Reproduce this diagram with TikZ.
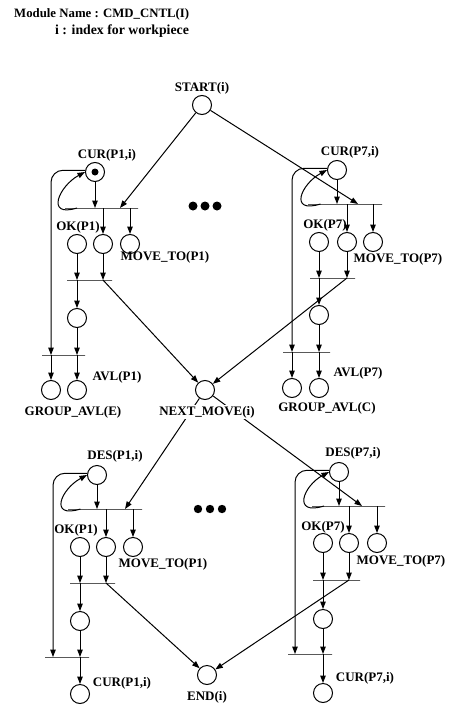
\documentclass[tikz,border=0pt]{standalone}
\usepackage{fontspec}
\setmainfont{Liberation Serif}
\usetikzlibrary{arrows.meta}

\begin{document}
\begin{tikzpicture}[x=1pt,y=1pt,
  place/.style={circle,draw,line width=1pt,minimum size=19pt,inner sep=0pt},
  token/.style={circle,fill,minimum size=7pt,inner sep=0pt},
  bar/.style={draw,line width=1pt,inner sep=0pt,outer sep=0pt,minimum height=0pt,minimum width=#1},
  lbl/.style={font=\fontsize{13}{15}\selectfont\bfseries,inner sep=1pt},
  arc/.style={-{Triangle[length=7.5pt,width=5.5pt]},line width=1pt}]
\useasboundingbox (0,0) rectangle (448,-709);

\node[lbl,anchor=west,font=\fontsize{12.8}{15}\selectfont\bfseries] (title) at (13,-14) {Module Name : CMD\_CNTL(I)};
\node[lbl,anchor=west,font=\fontsize{13.8}{15}\selectfont\bfseries] (index) at (54,-31) {i : index for workpiece};

\node[place] (start) at (202,-105) {};
\node[lbl] (startlbl) at (202,-88) {START(i)};
\node[place] (next) at (205,-390) {};
\node[place] (end) at (207,-675) {};
\coordinate (dotsU) at (205,-206);
\coordinate (dotsD) at (210,-509);

\node[place] (curA) at (95,-172) {};
\node[token] (tokA) at (curA) {};
\node[lbl] (curAlbl) at (107,-155) {CUR(P1,i)};
\node[bar=73pt] (tA1) at (101.5,-208) {};
\node[place] (okA) at (77,-244) {};
\node[place] (midA) at (103,-244) {};
\node[place] (mvA) at (130,-244) {};
\node[lbl] (okAlbl) at (78,-227) {OK(P1)};
\node[lbl] (mvAlbl) at (165,-257) {MOVE\_TO(P1)};
\node[bar=45pt] (tA2) at (89.5,-280) {};
\node[place] (pA) at (77,-318) {};
\node[bar=43pt] (tA3) at (63.5,-355) {};
\node[place] (grpA) at (51,-390) {};
\node[place] (avlA) at (77,-390) {};
\node[lbl] (avlAlbl) at (117,-377) {AVL(P1)};
\node[lbl] (grpAlbl) at (73,-412) {GROUP\_AVL(E)};

\node[place] (curB) at (337,-170) {};
\node[lbl] (curBlbl) at (350,-152) {CUR(P7,i)};
\node[bar=74pt] (tB1) at (345,-204) {};
\node[place] (okB) at (319,-242) {};
\node[place] (midB) at (347,-242) {};
\node[place] (mvB) at (373,-242) {};
\node[lbl] (okBlbl) at (325,-225) {OK(P7)};
\node[lbl] (mvBlbl) at (398,-259) {MOVE\_TO(P7)};
\node[bar=45pt] (tB2) at (332.5,-278) {};
\node[place] (pB) at (319,-315) {};
\node[bar=47pt] (tB3) at (306.5,-352) {};
\node[place] (grpB) at (292,-388) {};
\node[place] (avlB) at (319,-388) {};
\node[lbl] (avlBlbl) at (358,-373) {AVL(P7)};
\node[lbl] (grpBlbl) at (327,-408) {GROUP\_AVL(C)};

\node[place] (desC) at (97,-475) {};
\node[lbl] (desClbl) at (115,-456) {DES(P1,i)};
\node[bar=74pt] (tC1) at (105,-509) {};
\node[place] (okC) at (80,-547) {};
\node[place] (midC) at (106,-547) {};
\node[place] (mvC) at (133,-547) {};
\node[lbl] (okClbl) at (76,-530) {OK(P1)};
\node[lbl] (mvClbl) at (163,-564) {MOVE\_TO(P1)};
\node[bar=45pt] (tC2) at (92.5,-583) {};
\node[place] (pC) at (80,-621) {};
\node[bar=44pt] (tC3) at (67,-657) {};
\node[place] (curC) at (80,-694) {};
\node[lbl] (curClbl) at (122,-683) {CUR(P1,i)};

\node[place] (desD) at (339,-472) {};
\node[lbl] (desDlbl) at (353,-453) {DES(P7,i)};
\node[bar=73pt] (tD1) at (348.5,-506) {};
\node[place] (okD) at (323,-543) {};
\node[place] (midD) at (349,-543) {};
\node[place] (mvD) at (377,-543) {};
\node[lbl] (okDlbl) at (323,-527) {OK(P7)};
\node[lbl] (mvDlbl) at (401,-561) {MOVE\_TO(P7)};
\node[bar=47pt] (tD2) at (336.5,-580) {};
\node[place] (pD) at (323,-619) {};
\node[bar=44pt] (tD3) at (310,-654) {};
\node[place] (curD) at (323,-693) {};
\node[lbl] (curDlbl) at (365,-678) {CUR(P7,i)};

\draw[arc] (start) -- ([xshift=18.5pt]tA1.center);
\draw[arc] (curA) -- (curA |- tA1);
\draw[arc] ([xshift=-24.5pt]tA1.center) .. controls +(-32,-10) and +(-26,-14) .. (curA.west);
\draw[arc,rounded corners=12pt] (curA.170) -| (grpA |- tA3);
\draw[arc] (midA |- tA1) -- (midA);
\draw[arc] (mvA |- tA1) -- (mvA);
\draw[arc] (okA) -- (okA |- tA2);
\draw[arc] (midA) -- (midA |- tA2);
\draw[arc] (pA |- tA2) -- (pA);
\draw[arc] (midA |- tA2) -- (next);
\draw[arc] (pA) -- (pA |- tA3);
\draw[arc] (grpA |- tA3) -- (grpA);
\draw[arc] (avlA |- tA3) -- (avlA);

\draw[arc] (start) -- ([xshift=13pt]tB1.center);
\draw[arc] (curB) -- (curB |- tB1);
\draw[arc] ([xshift=-24.5pt]tB1.center) .. controls +(-32,-10) and +(-26,-14) .. (curB.west);
\draw[arc,rounded corners=12pt] (curB.170) -| (grpB |- tB3);
\draw[arc] (midB |- tB1) -- (midB);
\draw[arc] (mvB |- tB1) -- (mvB);
\draw[arc] (okB) -- (okB |- tB2);
\draw[arc] (midB) -- (midB |- tB2);
\draw[arc] (pB |- tB2) -- (pB);
\draw[arc] (midB |- tB2) -- (next);
\draw[arc] (pB) -- (pB |- tB3);
\draw[arc] (grpB |- tB3) -- (grpB);
\draw[arc] (avlB |- tB3) -- (avlB);

\draw[arc] (next) -- ([xshift=20pt]tC1.center);
\draw[arc] (desC) -- (desC |- tC1);
\draw[arc] ([xshift=-24.5pt]tC1.center) .. controls +(-32,-10) and +(-26,-14) .. (desC.west);
\draw[arc,rounded corners=12pt] (desC.170) -| ([xshift=-14pt]tC3.center);
\draw[arc] (midC |- tC1) -- (midC);
\draw[arc] (mvC |- tC1) -- (mvC);
\draw[arc] (okC) -- (okC |- tC2);
\draw[arc] (midC) -- (midC |- tC2);
\draw[arc] (pC |- tC2) -- (pC);
\draw[arc] (midC |- tC2) -- (end);
\draw[arc] (pC) -- (pC |- tC3);
\draw[arc] (curC |- tC3) -- (curC);

\draw[arc] (next) -- ([xshift=13.5pt]tD1.center);
\draw[arc] (desD) -- (desD |- tD1);
\draw[arc] ([xshift=-24.5pt]tD1.center) .. controls +(-32,-10) and +(-26,-14) .. (desD.west);
\draw[arc,rounded corners=12pt] (desD.170) -| ([xshift=-15pt]tD3.center);
\draw[arc] (midD |- tD1) -- (midD);
\draw[arc] (mvD |- tD1) -- (mvD);
\draw[arc] (okD) -- (okD |- tD2);
\draw[arc] (midD) -- (midD |- tD2);
\draw[arc] (pD |- tD2) -- (pD);
\draw[arc] (midD |- tD2) -- (end);
\draw[arc] (pD) -- (pD |- tD3);
\draw[arc] (curD |- tD3) -- (curD);

\node[lbl,fill=white] (nextlbl) at (207,-412) {NEXT\_MOVE(i)};
\node[lbl] (endlbl) at (207,-697) {END(i)};
\foreach \dx in {-12,0,12} \fill ([xshift=\dx pt]dotsU) circle (4.5pt);
\foreach \dx in {-12,0,12} \fill ([xshift=\dx pt]dotsD) circle (4.2pt);
\end{tikzpicture}
\end{document}
